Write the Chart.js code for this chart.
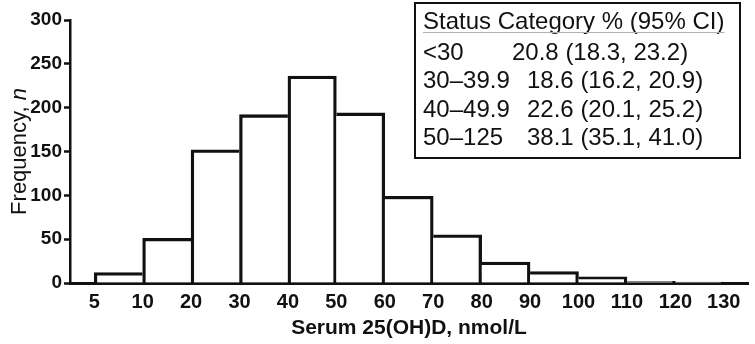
<!DOCTYPE html>
<html>
<head>
<meta charset="utf-8">
<script src="https://cdn.jsdelivr.net/npm/chart.js@4.4.1/dist/chart.umd.min.js"></script>
<style>
  html, body { margin: 0; padding: 0; background: #fff; }
  #wrap { width: 755px; height: 344px; }
</style>
</head>
<body>
<div id="wrap"><canvas id="chart" width="755" height="344"></canvas></div>
<script>
// bin edges (nmol/L) shown under the bars
const edgeLabels = ["5", "10", "20", "30", "40", "50", "60", "70", "80", "90", "100", "110", "120", "130"];
// frequency per bin
const counts = [12, 51, 152, 192, 236, 194, 99, 55, 24, 13, 7, 2, 1];
const yTicks = [0, 50, 100, 150, 200, 250, 300];

// inset table
const tableHeader = "Status Category % (95% CI)";
const statusLabels = ["<30", "30\u201339.9", "40\u201349.9", "50\u2013125"];
const statusValues = ["20.8 (18.3, 23.2)", "18.6 (16.2, 20.9)", "22.6 (20.1, 25.2)", "38.1 (35.1, 41.0)"];

const ink = "#111";
const fam = "'Liberation Sans', Arial, sans-serif";

// each bar sits between two edges: bin i spans [i, i+1]
const barData = counts.map((c, i) => ({ x: i + 0.5, y: c }));

// only the taller of two neighbours draws the shared side, so it stays one line thick
const outline = ctx => {
    const i = ctx.dataIndex;
    const prev = i > 0 ? counts[i - 1] : 0;
    const next = i < counts.length - 1 ? counts[i + 1] : 0;
    return {
        top: 3.3,
        bottom: 0,
        left: counts[i] > prev ? 3.3 : 0,
        right: counts[i] >= next ? 3.3 : 0
    };
};

// y title with italic n
const yTitlePlugin = {
    id: "yTitle",
    afterDraw(chart) {
        const { ctx, chartArea } = chart;
        const a = "Frequency, ", b = "n";
        ctx.save();
        ctx.translate(20, (chartArea.top + chartArea.bottom) / 2);
        ctx.rotate(-Math.PI / 2);
        ctx.fillStyle = ink;
        ctx.textBaseline = "middle";
        ctx.font = `22px ${fam}`;
        const wa = ctx.measureText(a).width;
        ctx.font = `italic 22px ${fam}`;
        const wb = ctx.measureText(b).width;
        const x0 = -(wa + wb) / 2;
        ctx.font = `22px ${fam}`;
        ctx.fillText(a, x0, 0);
        ctx.font = `italic 22px ${fam}`;
        ctx.fillText(b, x0 + wa, 0);
        ctx.restore();
    }
};

// the boxed table in the top right corner
const tablePlugin = {
    id: "statusTable",
    afterDraw(chart) {
        const { ctx } = chart;
        ctx.save();
        ctx.strokeStyle = ink;
        ctx.lineWidth = 2;
        ctx.strokeRect(415, 3, 325, 155);

        ctx.font = `24px ${fam}`;
        ctx.fillStyle = ink;
        ctx.textBaseline = "middle";
        ctx.fillText(tableHeader, 423, 22);
        const hw = ctx.measureText(tableHeader).width;
        ctx.strokeStyle = "#b0b0b0";
        ctx.lineWidth = 1;
        ctx.beginPath();
        ctx.moveTo(423, 32.5);
        ctx.lineTo(423 + hw, 32.5);
        ctx.stroke();

        const rowY = [53, 81.5, 110, 138.5];
        statusLabels.forEach((lab, i) => {
            ctx.fillText(lab, 423, rowY[i]);
            ctx.fillText(statusValues[i], i === 0 ? 512 : 527, rowY[i]);
        });
        ctx.restore();
    }
};

new Chart(document.getElementById("chart"), {
    type: "bar",
    data: {
        datasets: [{
            data: barData,
            backgroundColor: "#fff",
            borderColor: ink,
            borderWidth: outline,
            borderSkipped: false,
            barPercentage: 1,
            categoryPercentage: 1
        }]
    },
    options: {
        responsive: false,
        animation: false,
        layout: { padding: { left: 0, right: 7, top: 20, bottom: 0 } },
        plugins: {
            legend: { display: false },
            tooltip: { enabled: false }
        },
        scales: {
            x: {
                type: "linear",
                min: -0.5,
                max: edgeLabels.length - 0.5,
                offset: false,
                z: 1,
                afterBuildTicks: s => {
                    s.ticks = edgeLabels.map((_, i) => ({ value: i }));
                },
                afterFit: s => { s.height = 61; },
                grid: { display: false, drawTicks: false },
                border: { display: true, color: ink, width: 3 },
                ticks: {
                    autoSkip: false,
                    maxRotation: 0,
                    padding: 7,
                    color: ink,
                    font: { family: fam, size: 20, weight: "bold" },
                    callback: v => edgeLabels[v]
                },
                title: {
                    display: true,
                    text: "Serum 25(OH)D, nmol/L",
                    color: ink,
                    padding: { top: 4, bottom: 3 },
                    font: { family: fam, size: 21, weight: "bold" }
                }
            },
            y: {
                min: 0,
                max: 300,
                z: 1,
                afterBuildTicks: s => {
                    s.ticks = yTicks.map(v => ({ value: v }));
                },
                afterFit: s => { s.width = 70; },
                grid: {
                    drawOnChartArea: false,
                    tickLength: 6,
                    tickColor: ink,
                    tickWidth: 2.5
                },
                border: { display: true, color: ink, width: 2.5 },
                ticks: {
                    padding: 2,
                    color: ink,
                    font: { family: fam, size: 19, weight: "bold" }
                }
            }
        }
    },
    plugins: [yTitlePlugin, tablePlugin]
});
</script>
</body>
</html>
